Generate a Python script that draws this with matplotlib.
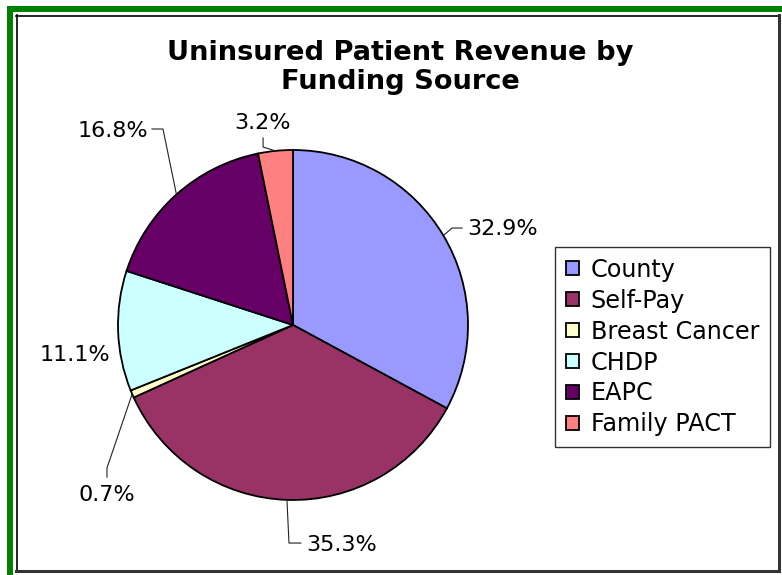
import matplotlib
matplotlib.use("Agg")
import matplotlib.pyplot as plt
from matplotlib.patches import Rectangle
import numpy as np

# data
sources = ["County", "Self-Pay", "Breast Cancer", "CHDP", "EAPC", "Family PACT"]
shares = [32.9, 35.3, 0.7, 11.1, 16.8, 3.2]
colours = ["#9999FF", "#993366", "#FFFFCC", "#CCFFFF", "#660066", "#FF8080"]

W, H = 782, 575
plt.rcParams['font.family'] = ['DejaVu Sans']

fig = plt.figure(figsize=(W / 100, H / 100), dpi=100)
fig.patch.set_facecolor('white')


def fx(px):
    return px / W


def fy(py):
    return 1 - py / H


# green outer border (picture is cropped on the right and bottom)
fig.patches.append(Rectangle((fx(7), fy(600)), fx(800), fy(6) - fy(600),
                             transform=fig.transFigure, facecolor='#008000',
                             edgecolor='none', zorder=-10))
fig.patches.append(Rectangle((fx(13), fy(600)), fx(800), fy(12) - fy(600),
                             transform=fig.transFigure, facecolor='white',
                             edgecolor='none', zorder=-9))
# inner black frame
fig.lines.append(plt.Line2D([fx(16.5), fx(16.5)], [fy(15), fy(571)], transform=fig.transFigure, color='black', lw=1.2))
fig.lines.append(plt.Line2D([fx(16), fx(779)], [fy(15.5), fy(15.5)], transform=fig.transFigure, color='black', lw=1.2))
fig.lines.append(plt.Line2D([fx(779), fx(779)], [fy(15), fy(571)], transform=fig.transFigure, color='#333333', lw=2.2))
fig.lines.append(plt.Line2D([fx(16), fx(779)], [fy(571), fy(571)], transform=fig.transFigure, color='#333333', lw=2.2))

fig.text(fx(400), fy(67.5), "Uninsured Patient Revenue by\nFunding Source",
         ha='center', va='center', fontsize=19.6, fontweight='bold', linespacing=1.18)

# pie: centre (293, 325) px, radius 175 px
ax = fig.add_axes([fx(118), fy(500), fx(350), fy(150) - fy(500)])
wedges, _ = ax.pie(shares, colors=colours, startangle=90, counterclock=False,
                   radius=1, wedgeprops=dict(edgecolor='black', linewidth=1.3))
ax.set_xlim(-1, 1)
ax.set_ylim(-1, 1)
ax.axis('off')

# label placement (data units of the pie radius)
lab_xy = [(0.994, 0.549), (0.074, -1.257), (-1.063, -0.971),
          (-1.046, -0.171), (-0.829, 1.109), (-0.177, 1.154)]
lab_ha = ['left', 'left', 'center', 'right', 'right', 'center']
# leader bends, from the wedge edge outwards
bends = [[(0.909, 0.554), (0.966, 0.554)],
         [(-0.023, -1.246), (0.045, -1.246)],
         [(-1.063, -0.817), (-1.063, -0.869)],
         None,
         [(-0.743, 1.12), (-0.806, 1.12)],
         [(-0.171, 1.017), (-0.171, 1.069)]]

for w, v, xy, ha, bd in zip(wedges, shares, lab_xy, lab_ha, bends):
    ax.text(xy[0], xy[1], f"{v:.1f}%", ha=ha, va='center', fontsize=16, clip_on=False)
    if bd is None:
        continue
    mid = np.deg2rad((w.theta1 + w.theta2) / 2)
    xs = [np.cos(mid)] + [p[0] for p in bd]
    ys = [np.sin(mid)] + [p[1] for p in bd]
    ax.plot(xs, ys, color='#222222', lw=0.8, clip_on=False)

leg = fig.legend(wedges, sources, loc='upper left',
                 bbox_to_anchor=(fx(555), fy(247)), fontsize=17.2,
                 frameon=True, fancybox=False, edgecolor='black',
                 handlelength=0.55, handleheight=0.55, handletextpad=0.5,
                 labelspacing=0.29, borderpad=0.45, borderaxespad=0)
leg.get_frame().set_linewidth(1.0)

fig.savefig("out.png", dpi=100, facecolor='white')
